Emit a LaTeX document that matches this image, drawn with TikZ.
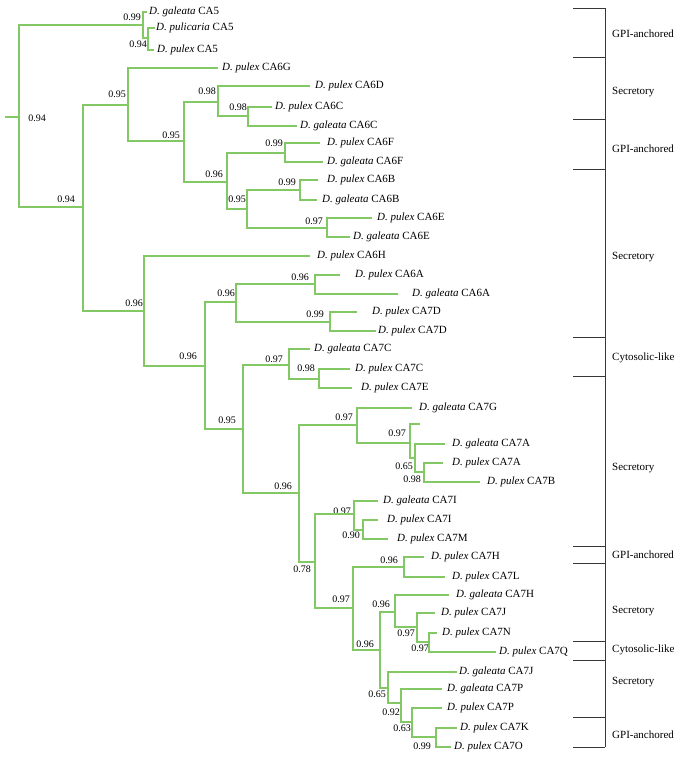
\documentclass[tikz,border=0pt]{standalone}
\usepackage{fontspec}
\setmainfont{Liberation Serif}
\definecolor{brgreen}{RGB}{130,200,100}
\definecolor{bkt}{RGB}{55,55,55}
\begin{document}
\begin{tikzpicture}[x=1pt,y=-1pt,
  br/.style={draw=brgreen,line width=1.35pt},
  leaf/.style={anchor=west,inner sep=0pt,font=\fontsize{11}{13}\selectfont},
  bs/.style={inner sep=0pt,font=\fontsize{10}{12}\selectfont},
  grp/.style={anchor=west,inner sep=0pt,font=\fontsize{11}{13}\selectfont},
  tick/.style={draw=bkt,line width=1pt}]
\useasboundingbox (0,0) rectangle (681,763);
% internal nodes
\foreach \n/\x/\y/\lx/\ly/\v in {
 R/19/117/37/118/0.94, A5/143/25/132/17/0.99, A5b/148/38/138/44/0.94,
 N1/83/207/66/199/0.94, N2/128/105/117/94/0.95, N3/184/141/171/135/0.95,
 N4/218/102/207/91/0.98, N4b/248/116/238/107/0.98, N5/227/182/214/174/0.96,
 N6/285/153/274/143/0.99, N7/247/209/237/199/0.95, N7a/300/190/287/182/0.99,
 N7b/327/228/314/221/0.97, N8/144/311/134/303/0.96, N9/205/366/188/356/0.96,
 N10/236/302/226/293/0.96, N11/315/284/300/277/0.96, N12/330/322/315/314/0.99,
 N13/243/429/227/420/0.95, N14/289/365/274/359/0.97, N15/319/379/306/368/0.98,
 N16/299/493/283/486/0.96, N17/357/425/344/417/0.97, N18/410/443/397/433/0.97,
 N19/415/458/404/466/0.65, N20/424/472/412/479/0.98, N21/315/562/302/569/0.78,
 N22/354/514/342/511/0.97, N23/363/530/351/535/0.90, N24/353/608/341/599/0.97,
 N25/404/567/389/560/0.96, N26/380/650/365/644/0.96, N27/395/612/381/604/0.96,
 N28/417/627/406/633/0.97, N29/429/642/420/648/0.97, N30/388/688/377/694/0.65,
 N31/401/703/391/712/0.92, N32/412/722/402/728/0.63, N33/436/737/422/746/0.99}
 {\coordinate (\n) at (\x,\y);
  \node[bs] (s\n) at (\lx,\ly) {\v};}
% leaves
\foreach \n/\x/\y/\lx/\sp/\id in {
 gCA5/147/12/149/galeata/CA5, pcCA5/155/28/156/pulicaria/CA5, pCA5/154/50/157/pulex/CA5,
 pCA6G/218/68/222/pulex/CA6G, pCA6D/310/86/315/pulex/CA6D, pCA6C/272/107/275/pulex/CA6C,
 gCA6C/297/126/300/galeata/CA6C, pCA6F/320/143/327/pulex/CA6F, gCA6F/323/162/327/galeata/CA6F,
 pCA6B/318/180/327/pulex/CA6B, gCA6B/317/200/322/galeata/CA6B, pCA6E/372/218/377/pulex/CA6E,
 gCA6E/350/237/353/galeata/CA6E, pCA6H/310/256/317/pulex/CA6H, pCA6A/340/275/355/pulex/CA6A,
 gCA6A/398/294/412/galeata/CA6A, pCA7D/357/312/372/pulex/CA7D, pCA7Db/376/331/378/pulex/CA7D,
 gCA7C/310/349/314/galeata/CA7C, pCA7C/350/369/355/pulex/CA7C, pCA7E/352/388/361/pulex/CA7E,
 gCA7G/412/408/419/galeata/CA7G, gCA7A/445/444/452/galeata/CA7A, pCA7A/443/463/452/pulex/CA7A,
 pCA7B/480/482/487/pulex/CA7B, gCA7I/378/501/383/galeata/CA7I, pCA7I/378/520/387/pulex/CA7I,
 pCA7M/388/539/397/pulex/CA7M, pCA7H/424/557/431/pulex/CA7H, pCA7L/445/577/452/pulex/CA7L,
 gCA7H/449/595/456/galeata/CA7H, pCA7J/435/613/441/pulex/CA7J, pCA7N/437/633/442/pulex/CA7N,
 pCA7Q/496/652/499/pulex/CA7Q, gCA7J/457/672/459/galeata/CA7J, gCA7P/442/689/447/galeata/CA7P,
 pCA7P/442/708/447/pulex/CA7P, pCA7K/457/728/460/pulex/CA7K, pCA7O/451/747/454/pulex/CA7O}
 {\coordinate (t\n) at (\x,\y);
  \node[leaf] (l\n) at (\lx,\y) {\textit{D. \sp} \id};}
\coordinate (tempty) at (420,424);
\coordinate (r0) at (5,117);
% branches
\draw[br] (r0) -- (R)
 \foreach \p/\c in {R/A5, R/N1, A5/tgCA5, A5/A5b, A5b/tpcCA5, A5b/tpCA5,
 N1/N2, N1/N8, N2/tpCA6G, N2/N3, N3/N4, N3/N5, N4/tpCA6D, N4/N4b,
 N4b/tpCA6C, N4b/tgCA6C, N5/N6, N5/N7, N6/tpCA6F, N6/tgCA6F, N7/N7a, N7/N7b,
 N7a/tpCA6B, N7a/tgCA6B, N7b/tpCA6E, N7b/tgCA6E, N8/tpCA6H, N8/N9, N9/N10, N9/N13,
 N10/N11, N10/N12, N11/tpCA6A, N11/tgCA6A, N12/tpCA7D, N12/tpCA7Db, N13/N14, N13/N16,
 N14/tgCA7C, N14/N15, N15/tpCA7C, N15/tpCA7E, N16/N17, N16/N21, N17/tgCA7G, N17/N18,
 N18/tempty, N18/N19, N19/tgCA7A, N19/N20, N20/tpCA7A, N20/tpCA7B, N21/N22, N21/N24,
 N22/tgCA7I, N22/N23, N23/tpCA7I, N23/tpCA7M, N24/N25, N24/N26, N25/tpCA7H, N25/tpCA7L,
 N26/N27, N26/N30, N27/tgCA7H, N27/N28, N28/tpCA7J, N28/N29, N29/tpCA7N, N29/tpCA7Q,
 N30/tgCA7J, N30/N31, N31/tgCA7P, N31/N32, N32/tpCA7P, N32/N33, N33/tpCA7K, N33/tpCA7O}
 {(\p) |- (\c)};
% brackets
\coordinate (btop) at (605,8);
\coordinate (bbot) at (605,747);
\draw[draw=bkt,line width=1pt] (btop) -- (bbot);
\foreach \y in {8,57,119,169,337,376,546,563,641,660,717,747}
 {\draw[tick] (573,\y) -- (605,\y);}
\foreach \y/\t in {34/GPI-anchored, 92/Secretory, 149/GPI-anchored, 257/Secretory,
 358/Cytosolic-like, 468/Secretory, 555/GPI-anchored, 611/Secretory,
 650/Cytosolic-like, 682/Secretory, 735/GPI-anchored}
 {\node[grp] at (612,\y) {\t};}
\end{tikzpicture}
\end{document}
